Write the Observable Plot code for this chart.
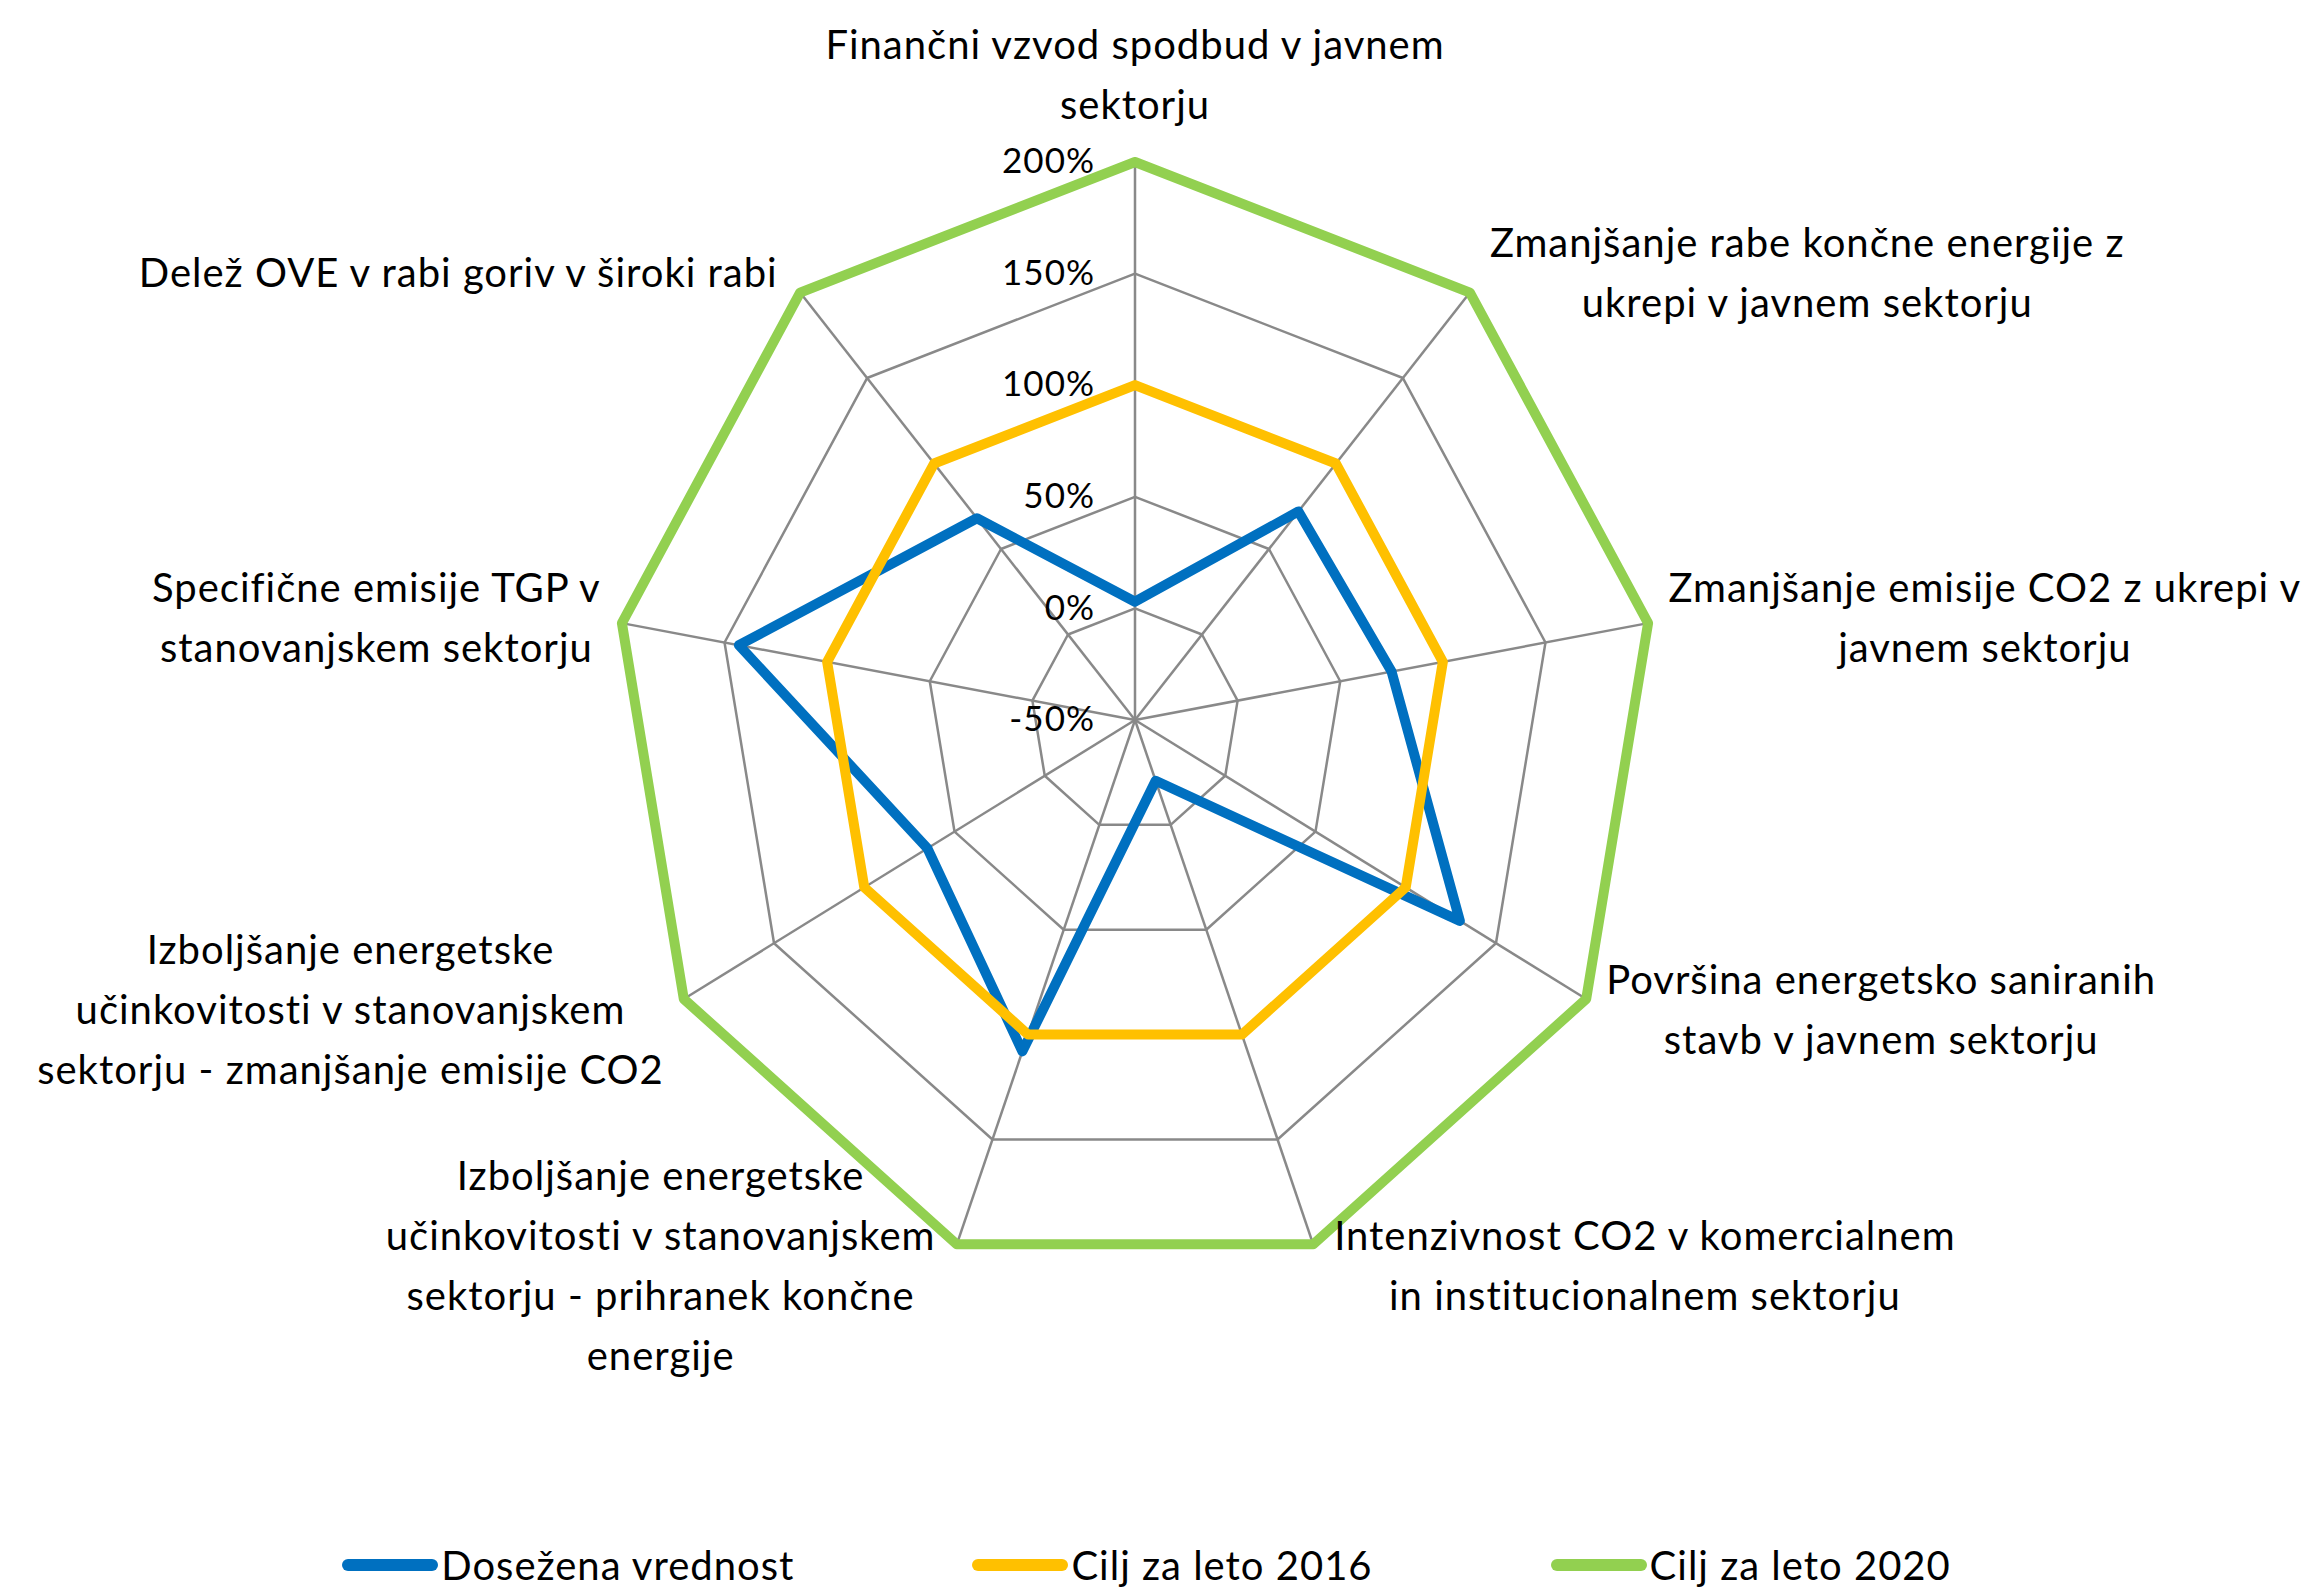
<!DOCTYPE html>
<html><head><meta charset="utf-8">
<script src="https://cdn.jsdelivr.net/npm/d3@7"></script>
<script src="https://cdn.jsdelivr.net/npm/@observablehq/plot@0.6"></script>
<style>
html,body{margin:0;padding:0;background:#fff;overflow:hidden;}
body{width:2319px;height:1589px;font-family:Lato,"Open Sans",sans-serif;}
#chart svg{display:block;}
#legend{display:flex;justify-content:center;gap:178px;height:70px;align-items:center;font-size:40px;letter-spacing:1px;color:#000;font-family:Lato,"Open Sans",sans-serif;padding-right:26px;}
.item{display:flex;align-items:center;}
.sw{width:96px;height:12px;border-radius:6px;margin-right:3px;}
</style></head><body><div id="chart"></div><div id="legend"></div>
<script>
const categories = [
  "Finančni vzvod spodbud v javnem\nsektorju",
  "Zmanjšanje rabe končne energije z\nukrepi v javnem sektorju",
  "Zmanjšanje emisije CO2 z ukrepi v\njavnem sektorju",
  "Površina energetsko saniranih\nstavb v javnem sektorju",
  "Intenzivnost CO2 v komercialnem\nin institucionalnem sektorju",
  "Izboljšanje energetske\nučinkovitosti v stanovanjskem\nsektorju - prihranek končne\nenergije",
  "Izboljšanje energetske\nučinkovitosti v stanovanjskem\nsektorju - zmanjšanje emisije CO2",
  "Specifične emisije TGP v\nstanovanjskem sektorju",
  "Delež OVE v rabi goriv v široki rabi"
];
const achieved   = [3, 72, 75, 130, -21, 108, 65, 143, 68];
const target2016 = [100, 100, 100, 100, 100, 100, 100, 100, 100];
const target2020 = [200, 200, 200, 200, 200, 200, 200, 200, 200];
const seriesNames  = ["Dosežena vrednost", "Cilj za leto 2016", "Cilj za leto 2020"];
const seriesColors = ["#0070C0", "#FFC000", "#92D050"];
const ticks = [-50, 0, 50, 100, 150, 200];
const tickLabels = ["-50%", "0%", "50%", "100%", "150%", "200%"];

const W = 2319, H = 1530, CX = 1134.5, CY = 719.5, RX = 521, RY = 558;
const FONT = "Lato, 'Open Sans', sans-serif";
const FS = 40, LS = 1, LH = 60, TFS = 35;
const rScale = d3.scaleLinear().domain([ticks[0], ticks[ticks.length-1]]).range([0, 1]);
const n = categories.length;
const ang = i => 2 * Math.PI * i / n;
const pt = (i, v) => ({x: Math.sin(ang(i)) * rScale(v), y: Math.cos(ang(i)) * rScale(v)});
const ring = (vals) => [...vals, vals[0]].map((v, k) => pt(k % n, v));

const series = [achieved, target2016, target2020];
const gridRings = ticks.filter(t => t > ticks[0]).map(t => ring(categories.map(() => t)));
const spokes = categories.map((c, i) => {
  const p = pt(i, ticks[ticks.length-1]);
  return {x1: 0, y1: 0, x2: p.x, y2: p.y};
});

// category labels placed just outside each outer vertex
const ctx = document.createElement("canvas").getContext("2d");
ctx.font = `${FS}px ${FONT}`;
const measure = s => ctx.measureText(s).width + LS * s.length;
const labelRows = [];
categories.forEach((c, i) => {
  const lines = c.split("\n");
  const wb = d3.max(lines, measure);
  const v = pt(i, ticks[ticks.length-1]);
  const s = Math.sin(ang(i)), co = Math.cos(ang(i));
  if (Math.abs(s) < 1e-6) {
    const bottom = v.y + 56 / RY;
    lines.forEach((l, k) => labelRows.push({x: 0, y: bottom + (lines.length - 1 - k) * LH / RY, text: l}));
    return;
  }
  const cxp = v.x + Math.sign(s) * (20 + wb / 2) / RX;
  const cyp = v.y + 24 * co / RY;
  lines.forEach((l, k) => labelRows.push({x: cxp, y: cyp - (k - (lines.length - 1) / 2) * LH / RY, text: l}));
});

const marks = [
  ...gridRings.map(r => Plot.line(r, {x: "x", y: "y", stroke: "#898989", strokeWidth: 2.5})),
  Plot.link(spokes, {x1: "x1", y1: "y1", x2: "x2", y2: "y2", stroke: "#898989", strokeWidth: 2.5}),
  ...series.map((s, k) => Plot.line(ring(s), {x: "x", y: "y", stroke: seriesColors[k], strokeWidth: 10, strokeLinejoin: "round", strokeLinecap: "round"})),
  Plot.text(ticks, {x: 0, y: t => rScale(t), text: (t, k) => tickLabels[k], textAnchor: "end", dx: -40, fontSize: TFS, fill: "#000"}),
  Plot.text(labelRows, {x: "x", y: "y", text: "text", textAnchor: "middle", lineAnchor: "middle", fontSize: FS, fill: "#000"})
];

const chart = Plot.plot({
  width: W, height: H,
  margin: 0,
  x: {domain: [-CX / RX, (W - CX) / RX], axis: null},
  y: {domain: [-(H - CY) / RY, CY / RY], axis: null},
  style: {fontFamily: FONT, background: "#fff", overflow: "visible", letterSpacing: `${LS}px`},
  marks
});
document.getElementById("chart").appendChild(chart);

const legend = document.getElementById("legend");
seriesNames.forEach((name, k) => {
  const it = document.createElement("div"); it.className = "item";
  const sw = document.createElement("div"); sw.className = "sw"; sw.style.background = seriesColors[k];
  const tx = document.createElement("span"); tx.textContent = name;
  it.appendChild(sw); it.appendChild(tx); legend.appendChild(it);
});
</script></body></html>
